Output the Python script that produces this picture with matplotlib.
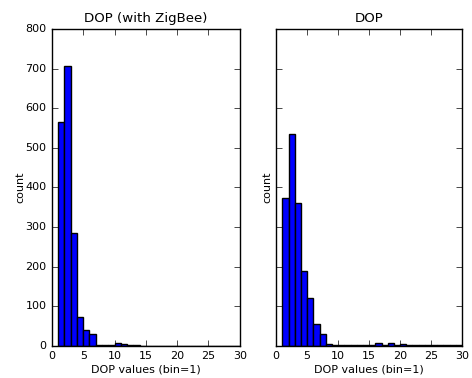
import numpy as np
import matplotlib.pyplot as plt

plt.style.use('classic')
plt.rcParams['font.size'] = 8

edges = np.arange(1, 31)
left_counts = [566, 706, 284, 73, 40, 29, 2, 1, 2, 6, 4, 1, 1, 0, 0,
               0, 0, 0, 0, 0, 0, 0, 0, 0, 0, 0, 0, 0, 0]
right_counts = [374, 536, 361, 188, 122, 55, 30, 4, 1, 1, 1, 1, 1, 1, 1,
                6, 1, 8, 1, 4, 1, 1, 1, 1, 1, 1, 1, 1, 2]

fig = plt.figure(figsize=(4.72, 3.78), dpi=100, facecolor='white')
ax1 = fig.add_axes([0.110, 0.085, 0.398, 0.838])
ax2 = fig.add_axes([0.585, 0.085, 0.394, 0.838], sharey=ax1)

ax1.hist(edges[:-1], bins=edges, weights=left_counts, color='b', edgecolor='k')
ax2.hist(edges[:-1], bins=edges, weights=right_counts, color='b', edgecolor='k')

for ax in (ax1, ax2):
    ax.set_xlim(0, 30)
    ax.set_ylim(0, 800)
    ax.set_xlabel('DOP values (bin=1)', labelpad=2)
ax1.set_ylabel('count', labelpad=0)
ax2.set_ylabel('count', labelpad=3)
ax1.set_title('DOP (with ZigBee)')
ax2.set_title('DOP')
plt.setp(ax2.get_yticklabels(), visible=False)

fig.savefig('out.png', dpi=100, facecolor='white')
